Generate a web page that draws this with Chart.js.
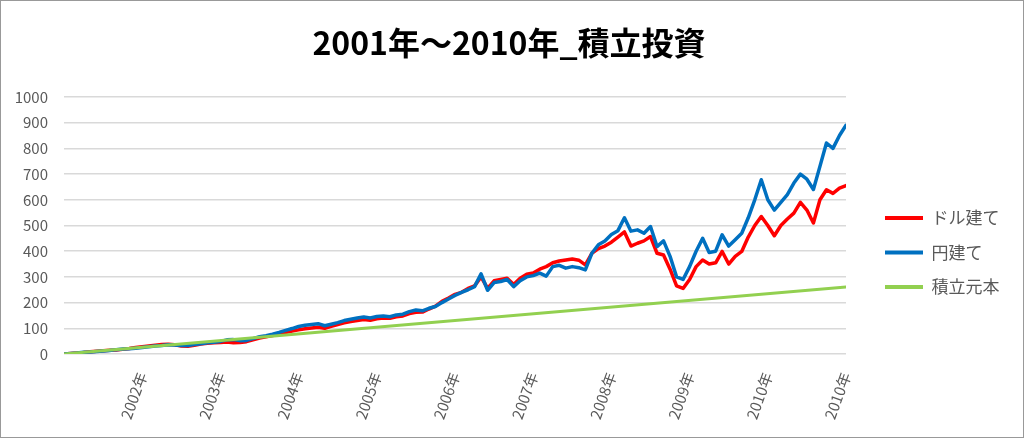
<!DOCTYPE html>
<html>
<head>
<meta charset="utf-8">
<script src="https://cdn.jsdelivr.net/npm/chart.js@4.4.1/dist/chart.umd.min.js"></script>
<style>
html, body { margin: 0; padding: 0; background: #fff; }
#wrap { position: relative; width: 1024px; height: 438px; }
#wrap:after { content: ''; position: absolute; left: 0; top: 0; right: 0; bottom: 0; border: 1px solid #999; pointer-events: none; }
canvas { display: block; }
</style>
</head>
<body>
<div id="wrap"><canvas id="lineChart" width="1024" height="438"></canvas></div>
<script>
// monthly readings, Jan 2001 .. Dec 2010 (121 points)
var dollarValues = [
    0, 2, 4, 6, 9, 11, 13, 15, 16, 18,
    21, 25, 28, 31, 34, 37, 38, 36, 31, 30,
    34, 39, 42, 44, 45, 47, 44, 45, 48, 55,
    62, 67, 72, 78, 84, 89, 94, 98, 101, 104,
    100, 108, 115, 121, 126, 130, 134, 131, 137, 140,
    139, 145, 148, 157, 162, 163, 175, 186, 205, 218,
    232, 240, 255, 265, 300, 255, 285, 290, 295, 270,
    295, 310, 315, 330, 340, 355, 362, 366, 370, 365,
    347, 392, 410, 420, 435, 455, 475, 420, 431, 440,
    457, 392, 385, 330, 265, 255, 290, 340, 366, 350,
    355, 399, 350, 380, 399, 455, 500, 535, 500, 460,
    500, 525, 548, 590, 560, 510, 600, 639, 625, 645,
    655
];
var yenValues = [
    0, 2, 4, 7, 8, 10, 12, 14, 17, 19,
    20, 22, 25, 28, 31, 33, 36, 35, 33, 33,
    37, 40, 44, 46, 49, 55, 56, 52, 53, 60,
    67, 71, 77, 84, 92, 99, 107, 112, 115, 118,
    110, 116, 122, 130, 135, 140, 144, 140, 146, 148,
    145, 152, 155, 165, 171, 168, 178, 185, 200, 214,
    228, 240, 250, 262, 312, 248, 278, 282, 290, 262,
    285, 300, 305, 315, 303, 340, 345, 334, 340, 336,
    327, 392, 425, 440, 465, 480, 530, 478, 483, 470,
    496, 418, 440, 380, 300, 290, 340, 400, 450, 395,
    400, 464, 420, 445, 470, 530, 600, 678, 600, 560,
    590, 620, 665, 700, 680, 640, 730, 821, 800, 850,
    890
];
var principalLine = [{ x: 0, y: 0 }, { x: 120, y: 261 }];

var tickIdx = [12, 24, 36, 48, 60, 72, 84, 96, 108, 120];
var yearLabels = ["2002年", "2003年", "2004年", "2005年", "2006年", "2007年", "2008年", "2009年", "2010年", "2010年"];
var seriesNames = ["ドル建て", "円建て", "積立元本"];

var months = [];
for (var i = 0; i < dollarValues.length; i++) months.push(i);

var fam = '"Noto Sans CJK JP", "Noto Sans", sans-serif';
var grey = '#595959';

var gapAxis = {
    type: 'linear',
    position: 'right',
    grid: { display: false },
    border: { display: false },
    ticks: { display: false },
    afterFit: function (s) { s.width = 21.5; }
};

var config = {
    type: 'line',
    data: {
        labels: months,
        datasets: [
            { label: seriesNames[0], data: dollarValues, borderColor: '#ff0000', backgroundColor: '#ff0000', borderWidth: 3.5, order: 3 },
            { label: seriesNames[1], data: yenValues, borderColor: '#0070c0', backgroundColor: '#0070c0', borderWidth: 3.5, order: 2 },
            { label: seriesNames[2], data: principalLine, borderColor: '#92d050', backgroundColor: '#92d050', borderWidth: 3, order: 1 }
        ]
    },
    options: {
        responsive: false,
        animation: false,
        elements: {
            line: { tension: 0, borderJoinStyle: 'round', borderCapStyle: 'round' },
            point: { radius: 0 }
        },
        layout: { padding: { top: 4, left: 14, right: 20, bottom: 0 } },
        plugins: {
            title: {
                display: true,
                text: '2001年～2010年_積立投資',
                color: '#000',
                font: { family: fam, size: 32, weight: 'bold' },
                padding: { top: 20, bottom: 34.6 }
            },
            legend: {
                position: 'right',
                fullSize: false,
                align: 'start',
                maxWidth: 136.5,
                title: { display: true, text: '', font: { size: 10 }, padding: { top: 83, bottom: 0 } },
                labels: {
                    boxWidth: 38,
                    boxHeight: 4,
                    padding: 17.5,
                    color: grey,
                    font: { family: fam, size: 17 },
                    sort: function (a, b) { return a.datasetIndex - b.datasetIndex; },
                    generateLabels: function (chart) {
                        var items = Chart.defaults.plugins.legend.labels.generateLabels(chart);
                        items.forEach(function (it) { it.lineWidth = 0; });
                        return items;
                    }
                }
            },
            tooltip: { enabled: false }
        },
        scales: {
            x: {
                type: 'linear',
                min: 0,
                max: 120,
                grid: { display: false },
                border: { display: false },
                afterBuildTicks: function (s) { s.ticks = tickIdx.map(function (v) { return { value: v }; }); },
                afterFit: function (s) { s.height = 84; },
                ticks: {
                    minRotation: 70,
                    maxRotation: 70,
                    autoSkip: false,
                    padding: 8,
                    color: grey,
                    font: { family: fam, size: 15 },
                    callback: function (v) { return yearLabels[tickIdx.indexOf(v)]; }
                }
            },
            y: {
                min: 0,
                max: 1000,
                ticks: {
                    stepSize: 100, padding: 16, color: grey, font: { family: fam, size: 15 },
                    callback: function (v) { return String(v); }
                },
                grid: { color: '#d9d9d9', lineWidth: 1.5, drawTicks: false },
                border: { display: false },
                afterFit: function (s) { s.width = 50; }
            },
            gap: gapAxis
        }
    }
};

var ctx = document.getElementById("lineChart").getContext("2d");
var myChart = new Chart(ctx, config);
</script>
</body>
</html>
